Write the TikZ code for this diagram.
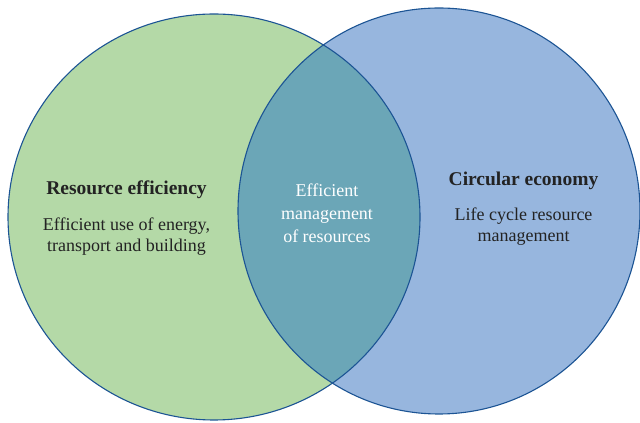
\documentclass[tikz,border=0pt]{standalone}
\usepackage{fontspec}
\setmainfont{Liberation Serif}
\definecolor{effgreen}{RGB}{180,217,167}
\definecolor{circblue}{RGB}{151,182,222}
\definecolor{overlap}{RGB}{107,166,183}
\definecolor{rim}{RGB}{28,84,148}
\definecolor{ink}{RGB}{35,35,35}

\begin{document}
\begin{tikzpicture}[
  x=1pt, y=1pt,
  rim/.style={draw=rim, line width=1.1pt},
  head/.style={font=\fontsize{19.5}{21}\selectfont\bfseries, text=ink},
  body/.style={font=\fontsize{18}{21}\selectfont, text=ink, align=center},
  mid/.style={font=\fontsize{18}{23}\selectfont, text=white, align=center},
]
\useasboundingbox (0,0) rectangle (640,423);
\fill[effgreen] (214,206) ellipse [x radius=206, y radius=203];
\fill[circblue] (439,212) ellipse [x radius=201, y radius=203];
% shared part of both sets
\begin{scope}
  \clip (214,206) ellipse [x radius=206, y radius=203];
  \fill[overlap] (439,212) ellipse [x radius=201, y radius=203];
\end{scope}
\draw[rim] (214,206) ellipse [x radius=206, y radius=203];
\draw[rim] (439,212) ellipse [x radius=201, y radius=203];

\node[head] (reff) at (126.5,233) {Resource efficiency};
\node[body] (reffdesc) at (126.5,186.5) {Efficient use of energy,\\transport and building};
\node[head] (circ) at (523.5,242) {Circular economy};
\node[body] (circdesc) at (523.5,196.5) {Life cycle resource\\management};
\node[mid] (both) at (327,210) {Efficient\\management\\of resources};
\end{tikzpicture}
\end{document}
